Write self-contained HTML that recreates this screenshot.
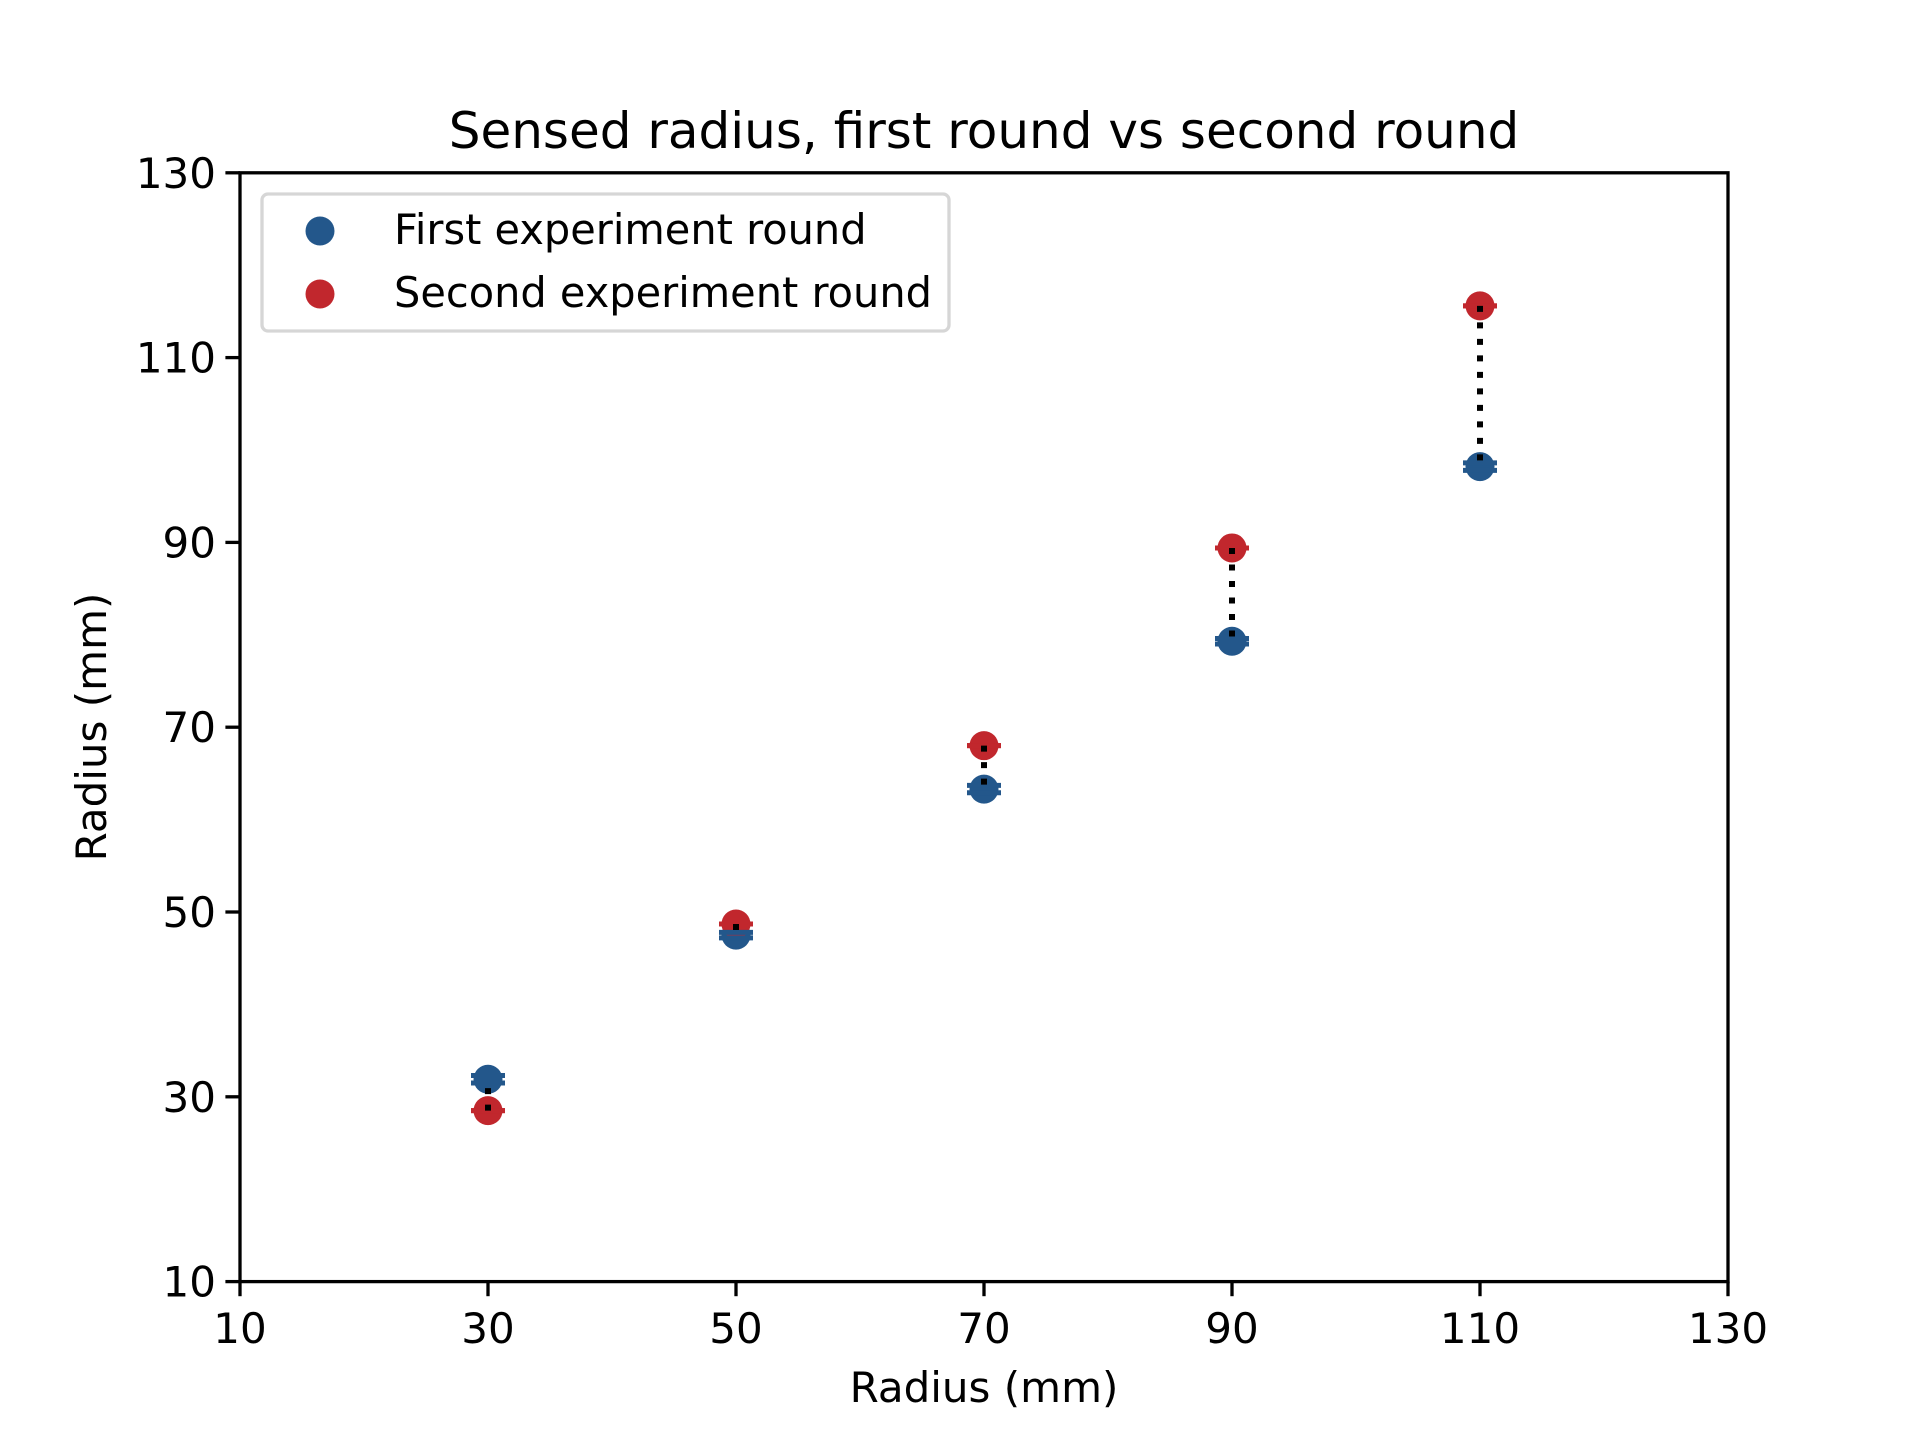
<!DOCTYPE html>
<html><head><meta charset="utf-8"><style>
html,body{margin:0;padding:0;background:#fff;}
svg{display:block;font-family:"DejaVu Sans","Liberation Sans",sans-serif;}
</style></head><body>
<svg id="chart" width="1920" height="1440" viewBox="0 0 1920 1440" xmlns="http://www.w3.org/2000/svg">
<rect width="1920" height="1440" fill="#fff"/>
<g id="marks"></g>
<g id="axes"></g>
</svg>
<script>
const categories = [30, 50, 70, 90, 110];
const firstRound = [31.9, 47.5, 63.3, 79.3, 98.2];
const secondRound = [28.5, 48.7, 68.0, 89.4, 115.6];
const firstErr = [0.4, 0.3, 0.4, 0.3, 0.4];
const secondErr = [0.0, 0.0, 0.0, 0.0, 0.0];
const xTicks = [10, 30, 50, 70, 90, 110, 130];
const yTicks = [10, 30, 50, 70, 90, 110, 130];

const L=240, R=1728, T=172.8, B=1281.6;
const xs = v => L + (v-10)/120*(R-L);
const ys = v => B - (v-10)/120*(B-T);
const NS="http://www.w3.org/2000/svg";
const marks=document.getElementById('marks');
const axes=document.getElementById('axes');
function mk(tag, attrs, parent){const e=document.createElementNS(NS,tag);for(const k in attrs)e.setAttribute(k,attrs[k]);parent.appendChild(e);return e;}
const BLUE="#23578b", RED="#c1272d";

categories.forEach((c,i)=>{
  const x=xs(c);
  let p=mk('circle',{cx:x,cy:ys(firstRound[i]),r:14.5,fill:BLUE},marks);
  
  
  p=mk('circle',{cx:x,cy:ys(secondRound[i]),r:14.5,fill:RED},marks);
  
  
  [[firstRound,firstErr,BLUE,'first-round-errorbar'],[secondRound,secondErr,RED,'second-round-errorbar']].forEach(([vals,errs,col,nm])=>{
    [vals[i]-errs[i], vals[i]+errs[i]].forEach(v=>{
      const e=mk('line',{x1:x-17,x2:x+17,y1:ys(v),y2:ys(v),stroke:col,'stroke-width':5},marks);
      
      
    });
  });
});
categories.forEach((c,i)=>{
  const x=xs(c);
  const a=ys(secondRound[i]), b=ys(firstRound[i]);
  const d=mk('line',{x1:x,x2:x,y1:a,y2:b,stroke:'#000','stroke-width':6,'stroke-dasharray':'6 10.5'},marks);
  
  
});

let f=mk('rect',{x:L,y:T,width:R-L,height:B-T,fill:'none',stroke:'#000','stroke-width':3.3},axes);


xTicks.forEach(t=>{
  const x=xs(t);
  let l=mk('line',{x1:x,x2:x,y1:B,y2:B+14.6,stroke:'#000','stroke-width':3.3},axes);
  
  
  let tx=mk('text',{x:x,y:1343,'font-size':42,'text-anchor':'middle',fill:'#000'},axes);
  tx.textContent=t;
  
  
});
yTicks.forEach(t=>{
  const y=ys(t);
  let l=mk('line',{x1:L-14.6,x2:L,y1:y,y2:y,stroke:'#000','stroke-width':3.3},axes);
  
  
  let tx=mk('text',{x:L-24,y:y+15,'font-size':42,'text-anchor':'end',fill:'#000'},axes);
  tx.textContent=t;
  
  
});
</script>
<svg style="position:absolute;left:0;top:0" width="1920" height="1440">
<text x="984" y="148" font-size="50" text-anchor="middle" font-family="DejaVu Sans, Liberation Sans, sans-serif">Sensed radius, first round vs second round</text>
<text x="984" y="1402" font-size="42" text-anchor="middle" font-family="DejaVu Sans, Liberation Sans, sans-serif">Radius (mm)</text>
<text transform="translate(106,727) rotate(-90)" font-size="42" text-anchor="middle" font-family="DejaVu Sans, Liberation Sans, sans-serif">Radius (mm)</text>
<g>
<rect x="262" y="194" width="687" height="137" rx="6" fill="#fff" fill-opacity="0.8" stroke="#d6d6d6" stroke-width="3.3"/>
<circle cx="320" cy="231" r="14.5" fill="#23578b"/>
<text x="394" y="244" font-size="41.5" font-family="DejaVu Sans, Liberation Sans, sans-serif">First experiment round</text>
<circle cx="320" cy="294" r="14.5" fill="#c1272d"/>
<text x="394" y="307" font-size="41.5" font-family="DejaVu Sans, Liberation Sans, sans-serif">Second experiment round</text>
</g>
</svg>
</body></html>
